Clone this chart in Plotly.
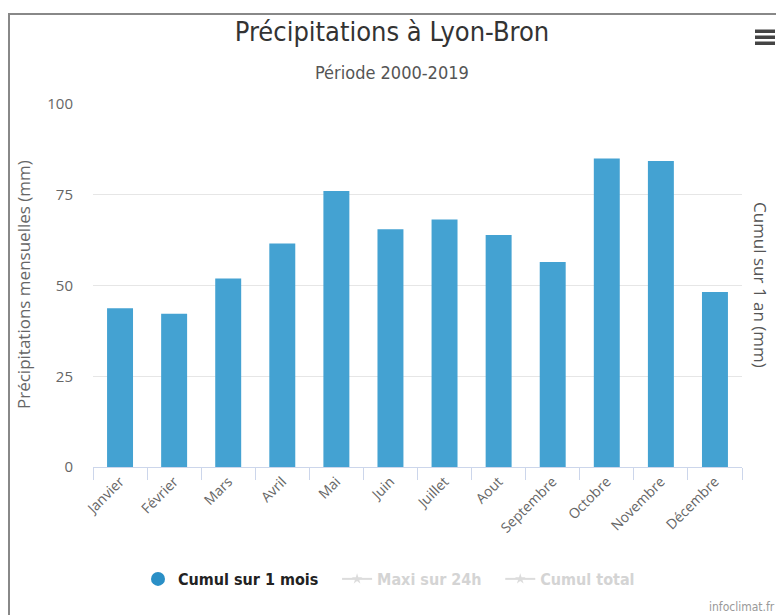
import plotly.graph_objects as go

months = ["Janvier", "Février", "Mars", "Avril", "Mai", "Juin", "Juillet",
          "Aout", "Septembre", "Octobre", "Novembre", "Décembre"]
cumul_mois = [43.7, 42.2, 51.9, 61.6, 76.0, 65.5, 68.2, 63.9, 56.5, 85.0, 84.3, 48.2]
y_ticks = [0, 25, 50, 75, 100]

OFF = 8  # page body margin
W, H = 784 - OFF, 615 - OFF
# plot area in page coords: x 93..742, y 104..467
L, R, T, B = 93 - OFF, W - (742 - OFF), 104 - OFF, H - (467 - OFF)
pw, ph = W - L - R, H - T - B


def px(x):
    return (x - OFF - L) / pw


def py(y):
    return (H - B - (y - OFF)) / ph


cond = "DejaVu Sans Condensed, Liberation Sans Narrow, Roboto, sans-serif"
body = "Open Sans, Noto Sans, sans-serif"
gap = "&nbsp;" * 3

fig = go.Figure()
fig.add_trace(go.Bar(
    x=months, y=cumul_mois, name="Cumul sur 1 mois",
    marker=dict(color="#44a2d2", line=dict(width=0)),
    showlegend=False, hoverinfo="x+y",
))
fig.add_trace(go.Scatter(
    x=[None], y=[None], mode="markers", name="<b>Cumul sur 1 mois</b>" + gap,
    marker=dict(symbol="circle", size=14, color="#2a8fc6"),
))
fig.add_trace(go.Scatter(
    x=[None], y=[None], mode="lines+markers",
    name="<b><span style='color:#aaaaaa'>Maxi sur 24h</span></b>" + gap,
    line=dict(color="#bbbbbb", width=2), marker=dict(symbol="star", size=8, color="#bbbbbb"),
    visible="legendonly",
))
fig.add_trace(go.Scatter(
    x=[None], y=[None], mode="lines+markers",
    name="<b><span style='color:#aaaaaa'>Cumul total</span></b>",
    line=dict(color="#bbbbbb", width=2), marker=dict(symbol="star", size=8, color="#bbbbbb"),
    visible="legendonly",
))

shapes = [
    # outer frame
    dict(type="rect", xref="paper", yref="paper",
         x0=px(9), x1=px(820), y0=py(660), y1=py(14),
         line=dict(color="#888888", width=2), fillcolor="rgba(0,0,0,0)", layer="below"),
]
# hamburger menu icon
for yy in (31, 37, 43):
    shapes.append(dict(type="rect", xref="paper", yref="paper",
                       x0=px(755), x1=px(775), y0=py(yy + 2), y1=py(yy - 1.5),
                       line=dict(width=0), fillcolor="#444444"))

fig.update_layout(
    width=W, height=H,
    margin=dict(l=L, r=R, t=T, b=B, autoexpand=False),
    paper_bgcolor="white", plot_bgcolor="white",
    bargap=0.52,
    title=dict(text="Précipitations à Lyon-Bron", x=px(392), xanchor="center",
               xref="paper", y=1 - (32 - OFF) / H, yanchor="middle",
               font=dict(family=cond, size=27, color="#333333")),
    font=dict(family=body, color="#666666"),
    xaxis=dict(
        type="category", tickangle=-45, tickfont=dict(size=14, color="#666666"),
        showline=True, linecolor="#ccd6eb", linewidth=1,
        ticks="outside", tickson="boundaries", ticklen=12, tickcolor="#ccd6eb",
        showgrid=False, fixedrange=True, automargin=False,
    ),
    yaxis=dict(
        range=[0, 100], tickvals=y_ticks, ticktext=[str(v) for v in y_ticks],
        tickfont=dict(size=15, color="#666666"),
        gridcolor="#e6e6e6", gridwidth=1, zeroline=False, showline=False,
        ticks="", ticklabelstandoff=19, automargin=False, fixedrange=True,
    ),
    legend=dict(orientation="h", x=px(138), xanchor="left", y=py(579), yanchor="middle",
                font=dict(family=cond, size=16, color="#222222"),
                itemclick=False, itemdoubleclick=False, bgcolor="rgba(0,0,0,0)"),
    shapes=shapes,
    annotations=[
        dict(text="Période 2000-2019", xref="paper", yref="paper",
             x=px(392), y=py(73), showarrow=False, xanchor="center", yanchor="middle",
             font=dict(family=cond, size=18, color="#555555")),
        dict(text="Précipitations mensuelles (mm)", xref="paper", yref="paper",
             x=px(23), y=py(285), showarrow=False, textangle=-90,
             xanchor="center", yanchor="middle",
             font=dict(family=body, size=17, color="#666666")),
        dict(text="Cumul sur 1 an (mm)", xref="paper", yref="paper",
             x=px(761), y=py(285), showarrow=False, textangle=90,
             xanchor="center", yanchor="middle",
             font=dict(family=body, size=17, color="#555555")),
        dict(text="infoclimat.fr", xref="paper", yref="paper",
             x=px(777), y=py(607), showarrow=False, xanchor="right", yanchor="middle",
             font=dict(family=cond, size=12, color="#999999")),
    ],
)

fig.write_html("out.html", config={"displayModeBar": False})
